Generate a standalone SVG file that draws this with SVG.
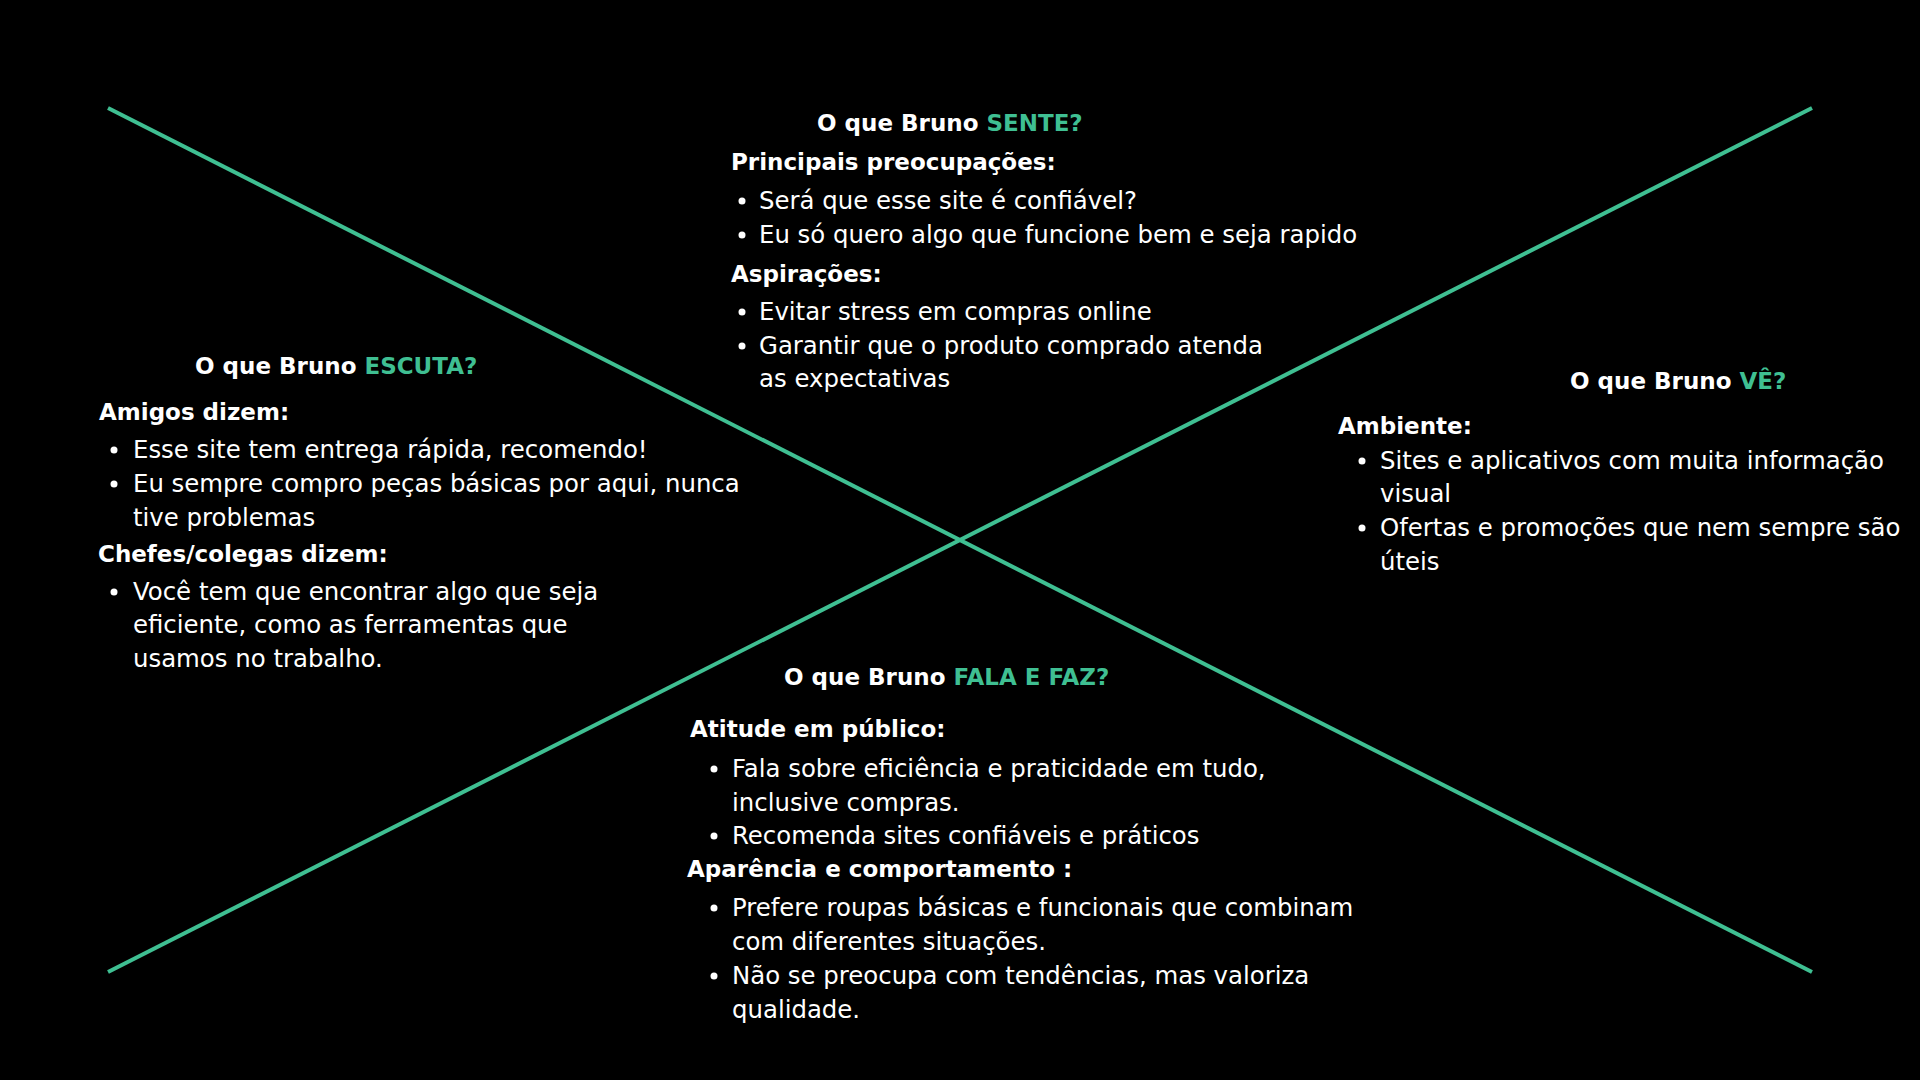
<svg xmlns="http://www.w3.org/2000/svg" width="1920" height="1080" viewBox="0 0 1920 1080">
<style>
.t{font-family:"DejaVu Sans","Open Sans",sans-serif;font-weight:700;font-size:23px;fill:#fff}
.h{font-family:"DejaVu Sans","Open Sans",sans-serif;font-weight:700;font-size:23px;fill:#fff}
.g{fill:#3fbf92}
.b{font-family:"DejaVu Sans","Open Sans",sans-serif;font-weight:400;font-size:24.4px;fill:#fff}
.d{fill:#fff}
.ln{stroke:#3fbf92;stroke-width:4;fill:none}
</style>
<rect width="1920" height="1080" fill="#000"/>
<g id="connectors">
<line class="ln" x1="108" y1="108" x2="1812" y2="972"/>
<line class="ln" x1="108" y1="972" x2="1812" y2="108"/>
</g>
<g id="sente">
<text class="t" x="817" y="131">O que Bruno <tspan class="g">SENTE?</tspan></text>
<text class="h" x="731" y="170">Principais preocupações:</text>
<circle class="d" cx="742" cy="201" r="3.5"/>
<text class="b" x="759" y="209">Será que esse site é confiável?</text>
<circle class="d" cx="742" cy="235" r="3.5"/>
<text class="b" x="759" y="243">Eu só quero algo que funcione bem e seja rapido</text>
<text class="h" x="731" y="282">Aspirações:</text>
<circle class="d" cx="742" cy="312" r="3.5"/>
<text class="b" x="759" y="320">Evitar stress em compras online</text>
<circle class="d" cx="742" cy="346" r="3.5"/>
<text class="b" x="759" y="354">Garantir que o produto comprado atenda</text>
<text class="b" x="759" y="387">as expectativas</text>
</g>
<g id="escuta">
<text class="t" x="195" y="374">O que Bruno <tspan class="g">ESCUTA?</tspan></text>
<text class="h" x="99" y="420">Amigos dizem:</text>
<circle class="d" cx="114" cy="450" r="3.5"/>
<text class="b" x="133" y="458">Esse site tem entrega rápida, recomendo!</text>
<circle class="d" cx="114" cy="484" r="3.5"/>
<text class="b" x="133" y="492">Eu sempre compro peças básicas por aqui, nunca</text>
<text class="b" x="133" y="526">tive problemas</text>
<text class="h" x="98" y="562">Chefes/colegas dizem:</text>
<circle class="d" cx="114" cy="592" r="3.5"/>
<text class="b" x="133" y="600">Você tem que encontrar algo que seja</text>
<text class="b" x="133" y="633">eficiente, como as ferramentas que</text>
<text class="b" x="133" y="667">usamos no trabalho.</text>
</g>
<g id="ve">
<text class="t" x="1570" y="389">O que Bruno <tspan class="g">VÊ?</tspan></text>
<text class="h" x="1338" y="434">Ambiente:</text>
<circle class="d" cx="1362" cy="461" r="3.5"/>
<text class="b" x="1380" y="469">Sites e aplicativos com muita informação</text>
<text class="b" x="1380" y="502">visual</text>
<circle class="d" cx="1362" cy="528" r="3.5"/>
<text class="b" x="1380" y="536">Ofertas e promoções que nem sempre são</text>
<text class="b" x="1380" y="570">úteis</text>
</g>
<g id="fala">
<text class="t" x="784" y="685">O que Bruno <tspan class="g">FALA E FAZ?</tspan></text>
<text class="h" x="690" y="737">Atitude em público:</text>
<circle class="d" cx="714" cy="769" r="3.5"/>
<text class="b" x="732" y="777">Fala sobre eficiência e praticidade em tudo,</text>
<text class="b" x="732" y="811">inclusive compras.</text>
<circle class="d" cx="714" cy="836" r="3.5"/>
<text class="b" x="732" y="844">Recomenda sites confiáveis e práticos</text>
<text class="h" x="687" y="877">Aparência e comportamento :</text>
<circle class="d" cx="714" cy="908" r="3.5"/>
<text class="b" x="732" y="916">Prefere roupas básicas e funcionais que combinam</text>
<text class="b" x="732" y="950">com diferentes situações.</text>
<circle class="d" cx="714" cy="976" r="3.5"/>
<text class="b" x="732" y="984">Não se preocupa com tendências, mas valoriza</text>
<text class="b" x="732" y="1018">qualidade.</text>
</g>
</svg>
